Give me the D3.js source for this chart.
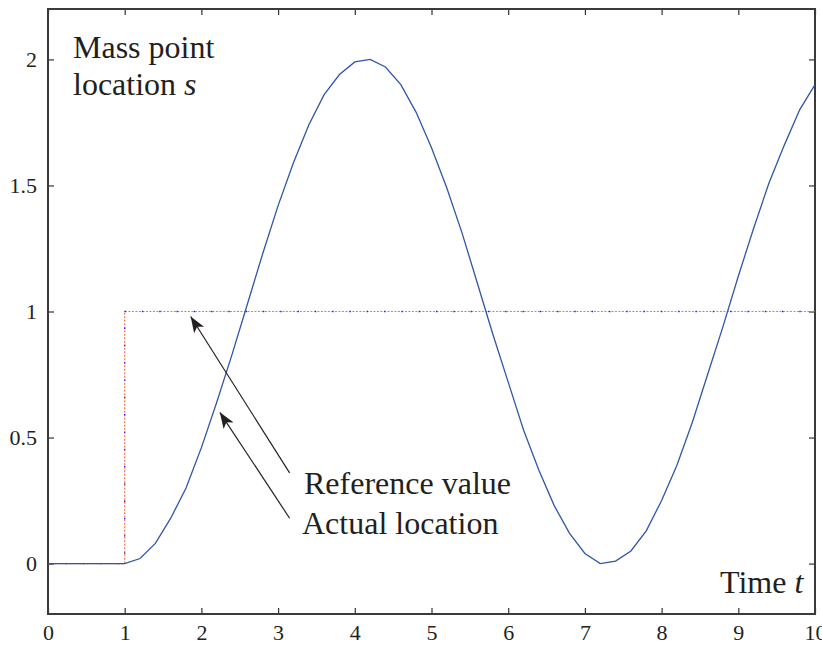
<!DOCTYPE html>
<html>
<head>
<meta charset="utf-8">
<script src="https://cdn.jsdelivr.net/npm/d3@7"></script>
<style>
  body { margin: 0; background: #fff; }
  svg text { font-family: "Liberation Serif", "Times New Roman", serif; fill: #231f20; }
</style>
</head>
<body>
<div id="chart"></div>
<script>

// data
var timeValues = [0, 1, 1.2, 1.4, 1.6, 1.8, 2.0, 2.2, 2.4, 2.6, 2.8, 3.0, 3.2, 3.4, 3.6, 3.8,
    4.0, 4.2, 4.4, 4.6, 4.8, 5.0, 5.2, 5.4, 5.6, 5.8, 6.0, 6.2, 6.4, 6.6, 6.8, 7.0,
    7.2, 7.4, 7.6, 7.8, 8.0, 8.2, 8.4, 8.6, 8.8, 9.0, 9.2, 9.4, 9.6, 9.8, 10.0];
var locationValues = [0, 0, 0.02, 0.08, 0.18, 0.30, 0.46, 0.64, 0.83, 1.03, 1.23, 1.42, 1.59, 1.74, 1.86, 1.94,
    1.99, 2.0, 1.97, 1.90, 1.79, 1.65, 1.49, 1.31, 1.11, 0.91, 0.72, 0.53, 0.37, 0.23, 0.12, 0.04,
    0.0, 0.01, 0.05, 0.13, 0.25, 0.39, 0.56, 0.75, 0.94, 1.14, 1.33, 1.51, 1.66, 1.80, 1.90];

// step reference: 0 until t = 1, then 1
var refTimes = [0, 1, 1, 10];
var refValues = [0, 0, 1, 1];

var xTicks = [0, 1, 2, 3, 4, 5, 6, 7, 8, 9, 10];
var yTicks = [0, 0.5, 1, 1.5, 2];

// annotation arrows: [tail t, tail s, tip t, tip s]
var arrowData = [
    [3.15, 0.36, 1.86, 0.98],
    [3.15, 0.18, 2.24, 0.60]
];

function main() {

    var margin = {top: 9, right: 7, bottom: 31, left: 48},
        width = 822 - margin.left - margin.right,
        height = 645 - margin.top - margin.bottom;

    var serif = "'Liberation Serif', 'Times New Roman', serif";

    var svg = d3.select("#chart")
        .append("svg")
        .attr("width", 822)
        .attr("height", 645)
        .style("font-family", serif)
        .append("g")
        .attr("transform", "translate(" + margin.left + "," + margin.top + ")");

    var x = d3.scaleLinear().domain([0, 10]).range([0, width]);
    var y = d3.scaleLinear().domain([-0.2, 2.2]).range([height, 0]);

    // ticks on all four sides, pointing inwards
    var tickLen = 6;
    svg.append("g")
        .attr("transform", "translate(0," + height + ")")
        .call(d3.axisBottom(x).tickValues(xTicks).tickSizeInner(-tickLen).tickSizeOuter(0).tickPadding(10)
            .tickFormat(d3.format("d")))
        .call(function (g) { g.select(".domain").remove(); })
        .call(function (g) {
            g.attr("font-family", serif).attr("font-size", 22);
            g.selectAll("text").attr("dy", "0.71em");
        });
    svg.append("g")
        .call(d3.axisTop(x).tickValues(xTicks).tickSizeInner(-tickLen).tickSizeOuter(0).tickFormat(""))
        .call(function (g) { g.select(".domain").remove(); });
    svg.append("g")
        .call(d3.axisLeft(y).tickValues(yTicks).tickSizeInner(-tickLen).tickSizeOuter(0).tickPadding(11)
            .tickFormat(function (d) { return d; }))
        .call(function (g) { g.select(".domain").remove(); })
        .call(function (g) { g.attr("font-family", serif).attr("font-size", 22); });
    svg.append("g")
        .attr("transform", "translate(" + width + ",0)")
        .call(d3.axisRight(y).tickValues(yTicks).tickSizeInner(-tickLen).tickSizeOuter(0).tickFormat(""))
        .call(function (g) { g.select(".domain").remove(); });

    svg.selectAll(".tick line").attr("stroke", "#333").attr("stroke-width", 1.2);

    // frame
    svg.append("rect")
        .attr("width", width)
        .attr("height", height)
        .attr("fill", "none")
        .attr("stroke", "#3a3a3a")
        .attr("stroke-width", 2);

    // reference value (orange and blue dotted on top of each other)
    var refLine = d3.line()
        .x(function (d, i) { return x(refTimes[i]); })
        .y(function (d, i) { return y(refValues[i]); });
    svg.append("path")
        .attr("d", refLine(refTimes))
        .attr("fill", "none")
        .attr("stroke", "#f07848")
        .attr("stroke-width", 1.2)
        .attr("stroke-dasharray", "2,1.5");
    svg.append("path")
        .attr("d", refLine(refTimes))
        .attr("fill", "none")
        .attr("stroke", "#1a1aff")
        .attr("stroke-width", 1.3)
        .attr("stroke-dasharray", "1.3,16");

    // actual location
    var locLine = d3.line()
        .x(function (d, i) { return x(timeValues[i]); })
        .y(function (d, i) { return y(locationValues[i]); });
    svg.append("path")
        .attr("d", locLine(timeValues))
        .attr("fill", "none")
        .attr("stroke", "#2f56a8")
        .attr("stroke-width", 1.3);

    // arrow heads
    svg.append("defs")
        .append("marker")
        .attr("id", "head")
        .attr("viewBox", "0 0 16 12")
        .attr("refX", 16)
        .attr("refY", 6)
        .attr("markerWidth", 16)
        .attr("markerHeight", 12)
        .attr("markerUnits", "userSpaceOnUse")
        .attr("orient", "auto")
        .append("path")
        .attr("d", "M0,0 L16,6 L0,12 L4,6 Z")
        .attr("fill", "#231f20");

    svg.selectAll(".arrow")
        .data(arrowData)
        .join("line")
        .attr("class", "arrow")
        .attr("x1", function (d) { return x(d[0]); })
        .attr("y1", function (d) { return y(d[1]); })
        .attr("x2", function (d) { return x(d[2]); })
        .attr("y2", function (d) { return y(d[3]); })
        .attr("stroke", "#231f20")
        .attr("stroke-width", 1.2)
        .attr("marker-end", "url(#head)");

    // labels
    svg.append("text")
        .attr("x", 25)
        .attr("y", 49)
        .attr("font-size", "32px")
        .text("Mass point");
    var loc = svg.append("text")
        .attr("x", 25)
        .attr("y", 86)
        .attr("font-size", "32px");
    loc.append("tspan").text("location ");
    loc.append("tspan").attr("font-style", "italic").text("s");

    svg.append("text")
        .attr("x", 256)
        .attr("y", 485)
        .attr("font-size", "32px")
        .text("Reference value");
    svg.append("text")
        .attr("x", 254)
        .attr("y", 525)
        .attr("font-size", "32px")
        .text("Actual location");

    var tl = svg.append("text")
        .attr("x", 672)
        .attr("y", 584)
        .attr("font-size", "32px");
    tl.append("tspan").text("Time ");
    tl.append("tspan").attr("font-style", "italic").text("t");
}

main()
</script>
</body>
</html>
